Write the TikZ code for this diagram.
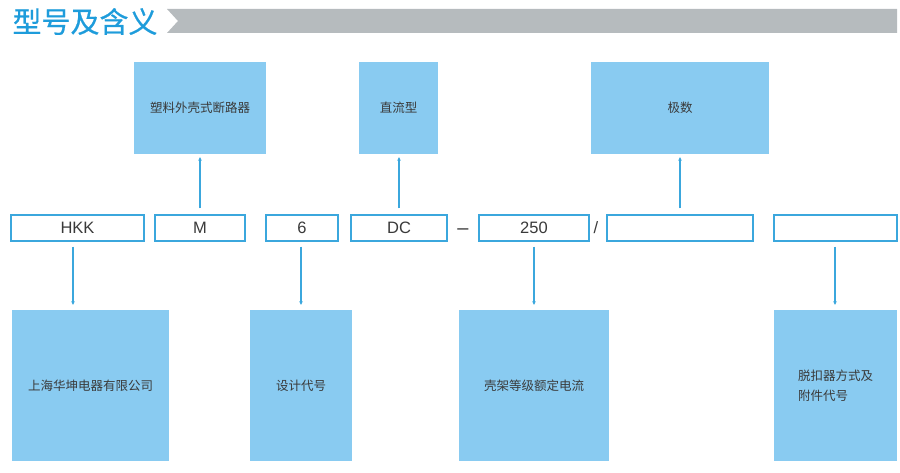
\documentclass[tikz,border=0pt]{standalone}
\usepackage{fontspec}
\setmainfont{Liberation Sans}
\newfontfamily\cjk{Noto Sans CJK SC}
\newfontfamily\cjktitle[FakeBold=0.6]{Noto Sans CJK SC}
\usetikzlibrary{arrows.meta}
\definecolor{titleblue}{HTML}{1E9CDB}
\definecolor{boxfill}{HTML}{89CBF1}
\definecolor{lineblue}{HTML}{3BA7DD}
\definecolor{barGray}{HTML}{B6BBBE}
\definecolor{txt}{HTML}{3A3A3A}
\tikzset{
  fillbox/.style={fill=boxfill, draw=none, inner sep=0pt, text=txt, font=\cjk\fontsize{12.5}{20}\selectfont},
  codebox/.style={draw=lineblue, line width=1.3pt, fill=white, inner sep=0pt, text=txt, font=\fontsize{16.5}{18}\selectfont},
  arr/.style={draw=lineblue, line width=1.2pt, -{Stealth[length=3.5pt,width=3.5pt]}},
  sep/.style={text=txt, font=\fontsize{16.5}{18}\selectfont, inner sep=0pt}
}
\begin{document}
\begin{tikzpicture}[x=1pt,y=-1pt]
\useasboundingbox (0,0) rectangle (900,473);
% header
\node[text=titleblue, font=\cjktitle\fontsize{29}{30}\selectfont, inner sep=0pt] (title) at (85,21.5) {型号及含义};
\fill[barGray] (167,9) -- (897,9) -- (897,33) -- (167,33) -- (178,21) -- cycle;
% top boxes
\node[fillbox, minimum width=132pt, minimum height=92pt] (t1) at (200,108) {塑料外壳式断路器};
\node[fillbox, minimum width=79pt, minimum height=92pt] (t2) at (398.5,108) {直流型};
\node[fillbox, minimum width=178pt, minimum height=92pt] (t3) at (680,108) {极数};
% code row
\node[codebox, minimum width=133pt, minimum height=26pt] (hkk) at (77.5,228) {HKK};
\node[codebox, minimum width=90pt, minimum height=26pt] (m) at (200,228) {M};
\node[codebox, minimum width=72pt, minimum height=26pt] (six) at (302,228) {6};
\node[codebox, minimum width=96pt, minimum height=26pt] (dc) at (399,228) {DC};
\node[sep, anchor=base, font=\fontsize{20}{20}\selectfont] (dash) at (463,234.5) {–};
\node[codebox, minimum width=110pt, minimum height=26pt] (n250) at (534,228) {250};
\node[sep] (slash) at (596,228) {/};
\node[codebox, minimum width=146pt, minimum height=26pt] (e1) at (680,228) {};
\node[codebox, minimum width=123pt, minimum height=26pt] (e2) at (835.5,228) {};
% bottom boxes
\node[fillbox, minimum width=157pt, minimum height=151pt] (b1) at (90.5,385.5) {上海华坤电器有限公司};
\node[fillbox, minimum width=102pt, minimum height=151pt] (b2) at (301,385.5) {设计代号};
\node[fillbox, minimum width=150pt, minimum height=151pt] (b3) at (534,385.5) {壳架等级额定电流};
\node[fillbox, minimum width=123pt, minimum height=151pt, align=left] (b4) at (835.5,385.5) {脱扣器方式及\\附件代号};
% connectors up
\draw[arr, shorten <=6pt, shorten >=3pt] (m.north) -- (t1.south);
\draw[arr, shorten <=6pt, shorten >=3pt] (dc.north) -- (dc.north |- t2.south);
\draw[arr, shorten <=6pt, shorten >=3pt] (e1.north) -- (t3.south);
% connectors down
\draw[arr, shorten <=5pt, shorten >=5pt] ([xshift=-4.5pt]hkk.south) -- ([xshift=-4.5pt]hkk.south |- b1.north);
\draw[arr, shorten <=5pt, shorten >=5pt] ([xshift=-1pt]six.south) -- ([xshift=-1pt]six.south |- b2.north);
\draw[arr, shorten <=5pt, shorten >=5pt] (n250.south) -- (b3.north);
\draw[arr, shorten <=5pt, shorten >=5pt] ([xshift=-0.5pt]e2.south) -- ([xshift=-0.5pt]e2.south |- b4.north);
\end{tikzpicture}
\end{document}
